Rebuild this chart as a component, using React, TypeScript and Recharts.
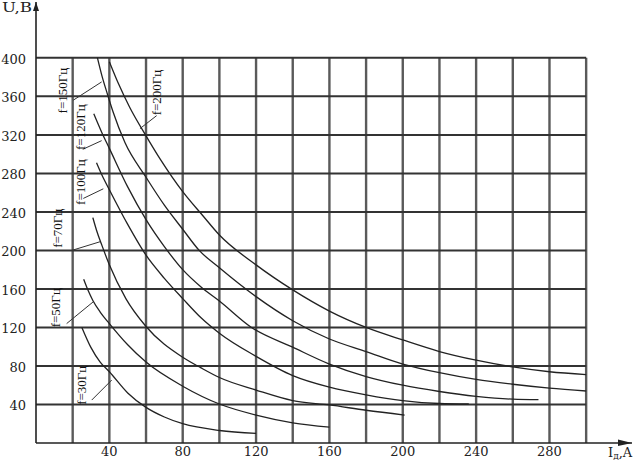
import { LineChart, Line, XAxis, YAxis, ReferenceLine, ReferenceDot } from 'recharts';

// U(Id) curves, [Id in A, U in V]
const f30: [number, number][] = [
  [25, 120], [30, 99], [35, 84], [40, 74], [50, 52], [60, 37], [70, 27], [80, 20], [100, 13], [120, 10],
];
const f50: [number, number][] = [
  [26, 170], [28.5, 158], [31, 148], [35, 136], [40, 124], [50, 102], [60, 84], [80, 59], [100, 40.5],
  [120, 29], [140, 21], [160, 16.5],
];
const f70: [number, number][] = [
  [31, 234], [33, 221], [36, 205], [40, 185], [49, 150], [60, 121], [80, 89], [90, 78], [100, 68], [120, 55],
  [140, 44], [160, 39.5], [180, 34], [201, 29],
];
const f100: [number, number][] = [
  [33, 291], [36, 278], [40, 263], [50, 227], [60, 195], [70, 171], [80, 150], [90, 130], [100, 114], [120, 90],
  [140, 70], [160, 58], [180, 50], [200, 44], [220, 41], [236, 40.5],
];
const f120: [number, number][] = [
  [31.5, 342], [36, 322], [40, 306], [50, 266], [60, 232], [70, 204], [80, 180], [90, 162], [100, 147.5],
  [117.5, 120], [140, 99.5], [160, 82], [180, 69], [200, 60], [220, 53.5], [240, 48.5], [260, 45.5], [274, 45],
];
const f150: [number, number][] = [
  [33.5, 400], [36, 381], [39, 362], [42, 344], [48.5, 312], [60, 276], [70, 247], [80, 222], [89, 200],
  [100, 182], [120, 152], [140, 127], [160, 108], [180, 95], [200, 82], [220, 73], [240, 66], [260, 61],
  [280, 57], [300, 54],
];
const f200: [number, number][] = [
  [40, 396], [45, 373], [51, 349], [60, 319], [68, 294], [80, 261], [91, 236], [100, 216], [120, 185],
  [140, 159], [160, 137], [180, 120], [200, 107], [220, 95], [240, 86], [260, 79], [280, 74], [300, 71],
];

const xGrid = [20, 40, 60, 80, 100, 120, 140, 160, 180, 200, 220, 240, 260, 280, 300];
const yGrid = [40, 80, 120, 160, 200, 240, 280, 320, 360, 400];
const xTicks = [40, 80, 120, 160, 200, 240, 280];
const yTicks = [40, 80, 120, 160, 200, 240, 280, 320, 360, 400];

// curve captions: text, caption centre, leader start, leader end (data units)
const captions: { text: string; at: [number, number]; from: [number, number]; to: [number, number] }[] = [
  { text: 'f=200Гц', at: [65.7, 364], from: [65.8, 340], to: [56.7, 326.5] },
  { text: 'f=150Гц', at: [14.6, 366], from: [20.3, 356], to: [35.8, 375] },
  { text: 'f=120Гц', at: [24.4, 328], from: [25.5, 305], to: [35.8, 314] },
  { text: 'f=100Гц', at: [24.2, 271], from: [25.8, 254], to: [36.7, 264] },
  { text: 'f=70Гц', at: [11.7, 223], from: [19.5, 200], to: [34.9, 209] },
  { text: 'f=50Гц', at: [10.6, 140.5], from: [16.7, 124], to: [31.2, 146.6] },
  { text: 'f=30Гц', at: [24.6, 60], from: [30.4, 44.6], to: [41.3, 65.4] },
];

const curves = [f30, f50, f70, f100, f120, f150, f200];

const SERIF = '"DejaVu Serif", serif';
const X_MAX = 325;
const Y_MAX = 458;

const toPoints = (arr: [number, number][]) => arr.map(([i, u]) => ({ i, u }));

const XTick = (p: any) => (
  <text x={p.x} y={p.y + 13} textAnchor="middle" fontFamily={SERIF} fontSize={13} fill="#222">
    {p.payload.value}
  </text>
);

const YTick = (p: any) => (
  <text x={p.x} y={p.y + 6} textAnchor="end" fontFamily={SERIF} fontSize={13} fill="#222">
    {p.payload.value}
  </text>
);

const XArrow = (p: any) => (
  <g>
    <polygon points={`${p.cx},${p.cy} ${p.cx - 14},${p.cy - 3.5} ${p.cx - 14},${p.cy + 3}`} fill="#222" />
    <text x={p.cx - 24} y={p.cy + 14} fontFamily={SERIF} fontSize={13} fill="#222">
      <tspan>I</tspan>
      <tspan fontSize={9} dy={2}>д</tspan>
      <tspan dy={-2}>,A</tspan>
    </text>
  </g>
);

const YArrow = (p: any) => (
  <g>
    <polygon points={`${p.cx},${p.cy} ${p.cx - 3},${p.cy + 9} ${p.cx + 3},${p.cy + 9}`} fill="#222" />
    <text x={p.cx - 34} y={p.cy + 10} fontFamily={SERIF} fontSize={13} fill="#222" textLength={30} lengthAdjust="spacingAndGlyphs">
      U,B
    </text>
  </g>
);

const captionShape = (text: string) => (p: any) => (
  <text
    x={p.cx}
    y={p.cy}
    transform={`rotate(-90 ${p.cx} ${p.cy})`}
    textAnchor="middle"
    dominantBaseline="central"
    fontFamily='"Liberation Serif", serif'
    fontSize={13}
    fill="#111"
  >
    {text}
  </text>
);

export default function App() {
  return (
    <div style={{ position: 'absolute', left: 0, top: 0, background: '#fff' }}>
      <LineChart width={639} height={460} margin={{ top: 2, right: 7, bottom: 0, left: 0 }}>
        <XAxis
          type="number"
          dataKey="i"
          domain={[0, X_MAX]}
          allowDataOverflow
          ticks={xTicks}
          tick={<XTick />}
          tickLine={false}
          tickSize={0}
          tickMargin={0}
          height={17}
          axisLine={{ stroke: '#222', strokeWidth: 1.6 }}
        />
        <YAxis
          type="number"
          dataKey="u"
          domain={[0, Y_MAX]}
          allowDataOverflow
          ticks={yTicks}
          tick={<YTick />}
          tickLine={false}
          tickSize={8}
          tickMargin={2}
          width={36}
          axisLine={{ stroke: '#222', strokeWidth: 1.6 }}
        />
        {xGrid.map((x) => (
          <ReferenceLine
            key={`vx${x}`}
            segment={[{ x, y: 0 }, { x, y: 400 }]}
            stroke="#5a5a5a"
            strokeWidth={2.4}
          />
        ))}
        {yGrid.map((y) => (
          <ReferenceLine
            key={`hy${y}`}
            segment={[{ x: 0, y }, { x: 300, y }]}
            stroke="#333"
            strokeWidth={2}
          />
        ))}
        {curves.map((c, k) => (
          <Line
            key={`c${k}`}
            data={toPoints(c)}
            dataKey="u"
            type="monotone"
            stroke="#222"
            strokeWidth={1.3}
            dot={false}
            isAnimationActive={false}
          />
        ))}
        {captions.map((c) => (
          <ReferenceLine
            key={`l${c.text}`}
            segment={[{ x: c.from[0], y: c.from[1] }, { x: c.to[0], y: c.to[1] }]}
            stroke="#333"
            strokeWidth={1}
          />
        ))}
        {captions.map((c) => (
          <ReferenceDot key={`t${c.text}`} x={c.at[0]} y={c.at[1]} r={1} ifOverflow="visible" shape={captionShape(c.text)} />
        ))}
        <ReferenceDot x={X_MAX} y={0} r={1} ifOverflow="visible" shape={XArrow} />
        <ReferenceDot x={0} y={Y_MAX} r={1} ifOverflow="visible" shape={YArrow} />
      </LineChart>
    </div>
  );
}
